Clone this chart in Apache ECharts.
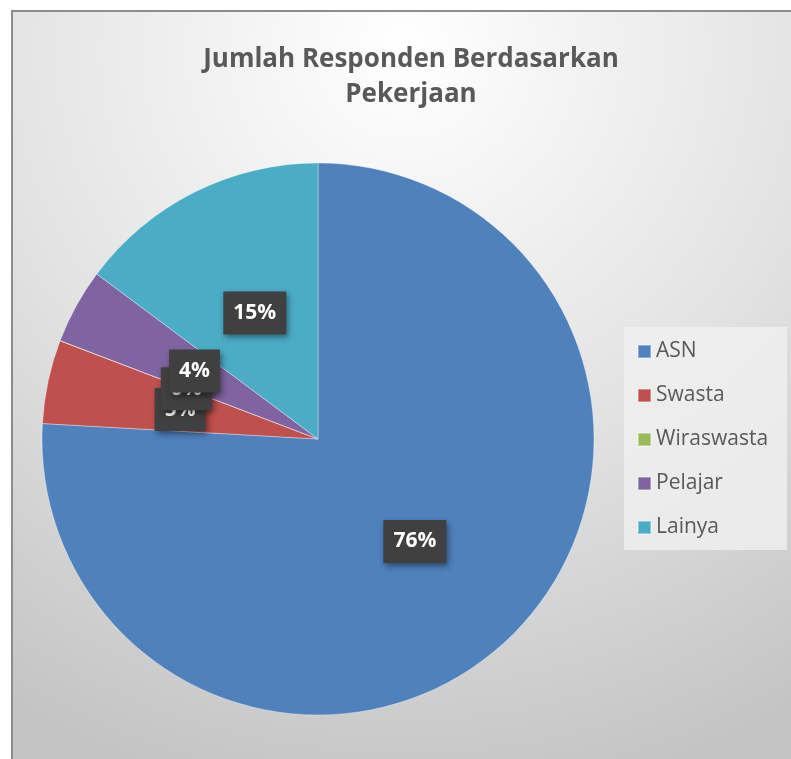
<!DOCTYPE html>
<html>
<head>
<meta charset="utf-8">
<script src="https://cdn.jsdelivr.net/npm/echarts@6/dist/echarts.min.js"></script>
<style>
html,body{margin:0;padding:0;background:#fff;width:791px;height:759px;overflow:hidden;}
#wrap{position:absolute;left:11px;top:10px;width:800px;height:760px;border-top:2px solid #8c8c8c;border-left:2px solid #8c8c8c;box-sizing:border-box;}
#chart{width:798px;height:758px;}
</style>
</head>
<body>
<div id="wrap"><div id="chart"></div></div>
<script>
var titleLines = ['Jumlah Responden Berdasarkan', 'Pekerjaan'];
var categories = ['ASN', 'Swasta', 'Wiraswasta', 'Pelajar', 'Lainya'];
// Wiraswasta is ~0 (shown as 0%); a negligible amount keeps its 0% label drawn
var values = [75.9, 4.9, 0.01, 4.4, 14.8];
var colors = ['#4f81bd', '#c0504d', '#9bbb59', '#8064a2', '#4bacc6'];

var chart = echarts.init(document.getElementById('chart'));
var data = categories.map(function (c, i) {
  return { name: c, value: values[i], itemStyle: { color: colors[i] } };
});
chart.setOption({
  backgroundColor: {
    type: 'radial', x: 0.49, y: 0.05, r: 1.0,
    colorStops: [
      { offset: 0, color: '#ffffff' },
      { offset: 0.55, color: '#e2e2e2' },
      { offset: 1, color: '#c4c4c4' }
    ]
  },
  animation: false,
  title: {
    text: titleLines.join('\n'),
    left: 393, top: 25, textAlign: 'center',
    textStyle: { fontFamily: 'Open Sans', fontWeight: 'bold', fontSize: 26, color: '#595959', lineHeight: 35 }
  },
  legend: {
    orient: 'vertical',
    left: 611, top: 315,
    padding: [14, 19, 12, 13],
    backgroundColor: 'rgba(240,240,240,0.8)',
    itemWidth: 13, itemHeight: 13, itemGap: 23,
    icon: 'rect',
    data: categories,
    textStyle: { fontFamily: 'Open Sans', fontSize: 21, color: '#595959' }
  },
  series: [{
    type: 'pie',
    center: [305, 427],
    radius: [0, 276],
    startAngle: 90,
    clockwise: true,
    avoidLabelOverlap: false,
    stillShowZeroSum: true,
    minShowLabelAngle: 0,
    labelLayout: { hideOverlap: false },
    itemStyle: { borderColor: 'rgba(255,255,255,0.35)', borderWidth: 1 },
    label: {
      show: true,
      position: 'inside',
      formatter: function (p) { return Math.round(p.percent) + '%'; },
      fontFamily: 'Open Sans', fontWeight: 'bold', fontSize: 21, color: '#ffffff',
      backgroundColor: '#404040',
      padding: [12, 10, 10, 10],
      shadowColor: 'rgba(0,0,0,0.45)', shadowBlur: 6, shadowOffsetX: 2, shadowOffsetY: 3
    },
    labelLine: { show: false },
    emphasis: { disabled: true },
    data: data
  }]
});
</script>
</body>
</html>
